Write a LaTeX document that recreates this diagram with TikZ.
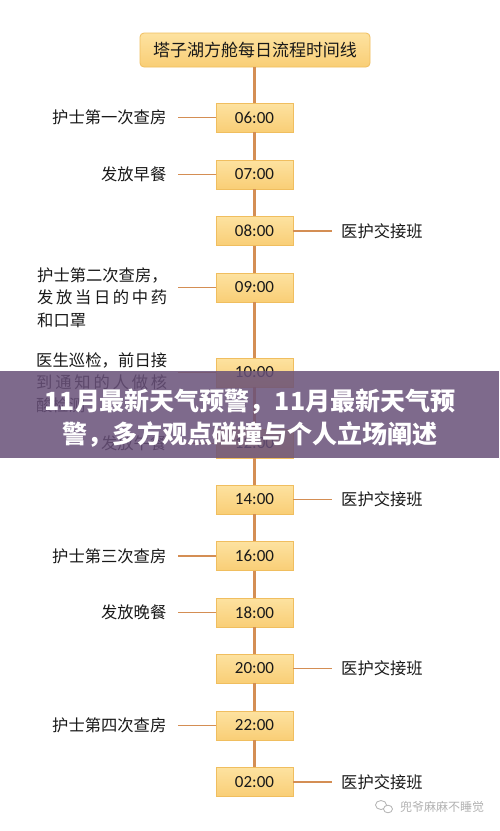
\documentclass[tikz,border=0pt]{standalone}
\usepackage{fontspec}
\setmainfont{Noto Sans CJK SC}
\newfontfamily\timefont{Carlito}
\definecolor{boxtop}{RGB}{253,226,160}
\definecolor{boxbot}{RGB}{249,206,118}
\definecolor{boxline}{RGB}{240,190,95}
\definecolor{spinecol}{RGB}{212,142,84}
\definecolor{textdark}{RGB}{25,25,25}
\definecolor{bandcol}{RGB}{104,80,121}
\definecolor{wmcol}{RGB}{178,178,178}
\begin{document}
\begin{tikzpicture}[x=1pt,y=-1pt,
  timebox/.style={draw=boxline, line width=0.8pt, top color=boxtop, bottom color=boxbot,
    minimum width=77pt, minimum height=29pt, inner sep=0pt,
    font=\timefont\fontsize{17}{17}\selectfont, text=textdark},
  titlebox/.style={draw=boxline, line width=0.8pt, rounded corners=4pt, top color=boxtop, bottom color=boxbot,
    minimum width=230pt, minimum height=34pt, inner sep=0pt,
    font=\fontsize{17}{17}\selectfont, text=textdark},
  lbl/.style={font=\fontsize{16.3}{22.5}\selectfont, text=textdark, inner sep=0pt},
  spine/.style={draw=spinecol, line width=2.4pt},
  conn/.style={draw=spinecol, line width=1.5pt},
  bandtext/.style={font=\fontsize{25}{25}\selectfont\bfseries, text=white, inner sep=0pt}
]
\useasboundingbox (0,0) rectangle (499,831);
\fill[white] (0,0) rectangle (499,831);

\coordinate (lend) at (178,0);
\coordinate (rend) at (332,0);

\node[titlebox] (title) at (255,50) {塔子湖方舱每日流程时间线};

\node[timebox] (t06) at (254.5,117.5) {06:00};
\node[timebox] (t07) at (254.5,174.5) {07:00};
\node[timebox] (t08) at (254.5,231) {08:00};
\node[timebox] (t09) at (254.5,287.5) {09:00};
\node[timebox] (t10) at (254.5,372.5) {10:00};
\node[timebox] (t12) at (254.5,443.5) {12:00};
\node[timebox] (t14) at (254.5,499.5) {14:00};
\node[timebox] (t16) at (254.5,556) {16:00};
\node[timebox] (t18) at (254.5,612.5) {18:00};
\node[timebox] (t20) at (254.5,668.5) {20:00};
\node[timebox] (t22) at (254.5,725.5) {22:00};
\node[timebox] (t02) at (254.5,782) {02:00};

% spine
\draw[spine] (title.south -| t06.north) -- (t06.north);
\foreach \a/\b in {t06/t07,t07/t08,t08/t09,t09/t10,t10/t12,t12/t14,t14/t16,t16/t18,t18/t20,t20/t22,t22/t02}
  \draw[spine] (\a.south) -- (\b.north);

% left labels
\node[lbl, anchor=east] (l06) at (166.5,117.5) {护士第一次查房};
\node[lbl, anchor=east] (l07) at (166.5,174.5) {发放早餐};
\node[lbl, anchor=west, align=left] (l09) at (37,297.5)
  {护士第二次查房，\\\makebox[130pt][s]{发\hfil 放\hfil 当\hfil 日\hfil 的\hfil 中\hfil 药}\\和口罩};
\node[lbl, anchor=west, align=left] (l10) at (36,382.5)
  {\makebox[131pt][s]{医\hfil 生\hfil 巡\hfil 检\hfil ，\hfil 前\hfil 日\hfil 接}\\\makebox[131pt][s]{到\hfil 通\hfil 知\hfil 的\hfil 人\hfil 做\hfil 核}\\酸检测};
\node[lbl, anchor=east] (l12) at (166.5,443.5) {发放午餐};
\node[lbl, anchor=east] (l16) at (166.5,556) {护士第三次查房};
\node[lbl, anchor=east] (l18) at (166.5,612.5) {发放晚餐};
\node[lbl, anchor=east] (l22) at (166.5,725.5) {护士第四次查房};

\foreach \t in {t06,t07,t09,t10,t12,t16,t18,t22}
  \draw[conn] (\t.west) -- (\t.west -| lend);

% right labels
\node[lbl, anchor=west] (r08) at (341,231) {医护交接班};
\node[lbl, anchor=west] (r14) at (341,499.5) {医护交接班};
\node[lbl, anchor=west] (r20) at (341,668.5) {医护交接班};
\node[lbl, anchor=west] (r02) at (341,782) {医护交接班};
\foreach \t in {t08,t14,t20,t02}
  \draw[conn] (\t.east) -- (\t.east -| rend);

% overlay band
\fill[bandcol, fill opacity=0.85] (0,371) rectangle (499,458);
\node[bandtext] (b1) at (250,402) {11月最新天气预警，11月最新天气预};
\node[bandtext] (b2) at (250,435) {警，多方观点碰撞与个人立场阐述};

% watermark
\draw[wmcol, line width=0.8pt] (381,805) ellipse (5.5 and 4.5);
\draw[wmcol, line width=0.8pt, fill=white] (388,809) ellipse (4.5 and 3.8);
\node[text=wmcol, font=\fontsize{12}{12}\selectfont, inner sep=0pt, anchor=west] (wm) at (400,807) {兜爷麻麻不睡觉};
\end{tikzpicture}
\end{document}
